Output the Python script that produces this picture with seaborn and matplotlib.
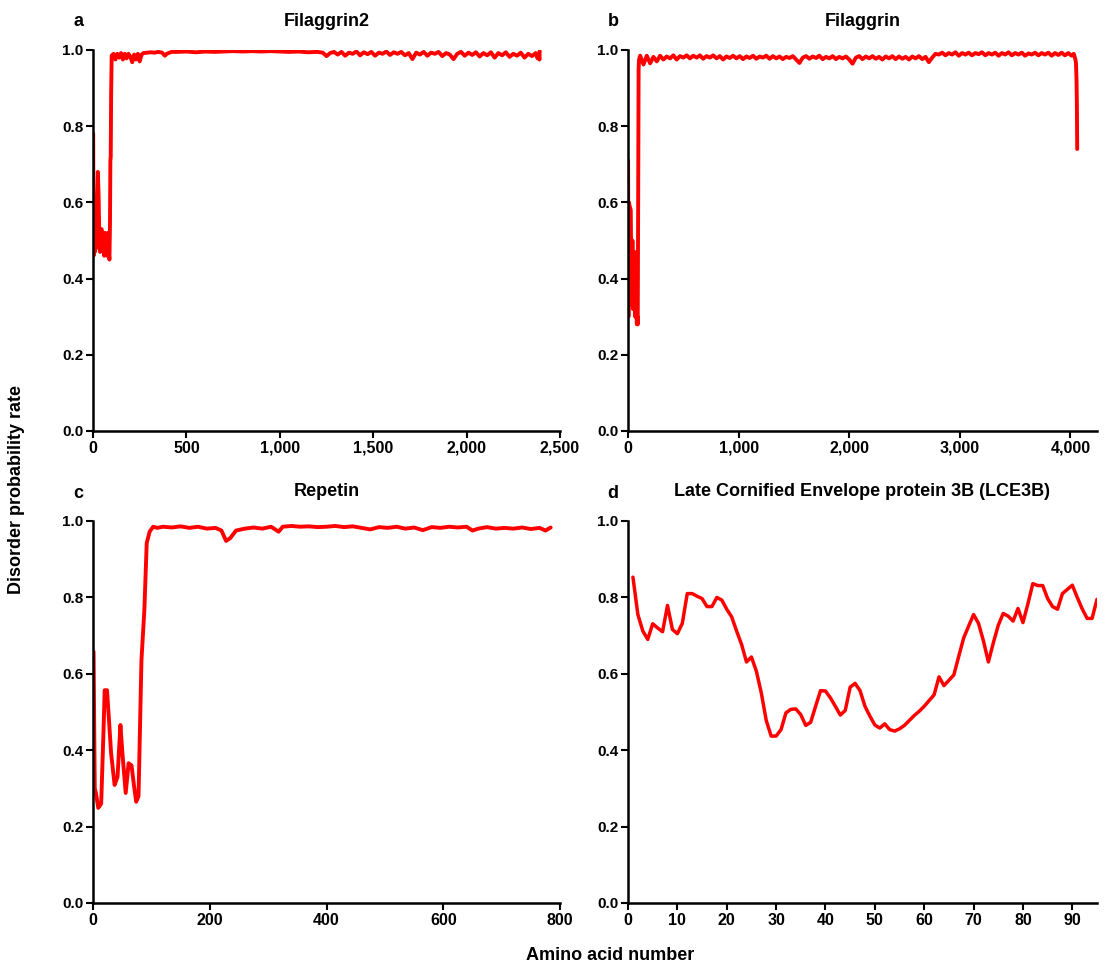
import matplotlib
matplotlib.use("Agg")
import matplotlib.pyplot as plt
import seaborn as sns
import pandas as pd
from matplotlib.ticker import FuncFormatter

# ---------------- data ----------------
# a: Filaggrin2
flg2_pos = [1, 3, 6, 10, 14, 18, 22, 26, 30, 34, 38, 42, 46, 50, 55, 60, 64, 68, 72, 76, 80, 84, 88, 91, 93, 95, 97, 100,
            110, 120, 130, 140, 150, 160, 170, 180, 190, 200, 210, 220, 230, 240, 250, 260, 270, 290, 310, 330, 350, 370,
            385, 395, 420, 450, 500, 550, 600, 650, 700, 750, 800, 850, 900, 950, 1000, 1050, 1100, 1150, 1200, 1230,
            1250, 1270, 1290,
            1310, 1330, 1350, 1370, 1390, 1410, 1430, 1450, 1470, 1490, 1510, 1530, 1550, 1570, 1590, 1610, 1630, 1650,
            1670, 1690, 1710, 1730, 1750, 1770, 1790, 1810, 1830, 1850, 1870, 1890, 1910, 1930, 1950, 1970, 1990, 2010,
            2030, 2050, 2070, 2090, 2110, 2130, 2150, 2170, 2190, 2210, 2230, 2250, 2270, 2290, 2310, 2330, 2350, 2370,
            2380, 2386, 2390, 2391]
flg2_val = [0.78, 0.46, 0.58, 0.47, 0.55, 0.48, 0.60, 0.68, 0.62, 0.50, 0.47, 0.53, 0.53, 0.52, 0.48, 0.46, 0.52, 0.47,
            0.51, 0.46, 0.52, 0.47, 0.45, 0.55, 0.71, 0.72, 0.88, 0.985,
            0.99, 0.975, 0.99, 0.98, 0.992, 0.975, 0.99, 0.978, 0.99, 0.982, 0.968, 0.988, 0.975, 0.99, 0.97, 0.988,
            0.992, 0.993, 0.994, 0.993, 0.995, 0.993, 0.985, 0.99, 0.995, 0.995, 0.996, 0.994, 0.996, 0.995, 0.996,
            0.997, 0.996, 0.997, 0.996, 0.997, 0.996, 0.995, 0.996, 0.994, 0.995, 0.993, 0.984, 0.992, 0.995,
            0.988, 0.995, 0.985, 0.993, 0.99, 0.996, 0.986, 0.994, 0.989, 0.995, 0.985, 0.993, 0.99, 0.996, 0.987,
            0.994, 0.99, 0.995, 0.986, 0.992, 0.976, 0.993, 0.988, 0.995, 0.985, 0.993, 0.99, 0.995, 0.984, 0.992,
            0.988, 0.976, 0.99, 0.995, 0.985, 0.993, 0.987, 0.994, 0.983, 0.992, 0.986, 0.994, 0.98, 0.992, 0.986,
            0.994, 0.982, 0.99, 0.985, 0.993, 0.98, 0.99, 0.984, 0.992, 0.978, 0.99, 0.975, 0.998]

# b: Filaggrin
flg_pos = [1, 4, 8, 15, 25, 30, 35, 40, 45, 50, 55, 60, 65, 70, 75, 80, 85, 88, 92, 96, 100, 110,
           140, 170, 200, 230, 260, 290, 320, 350, 380, 410, 440, 470, 500, 530, 560, 590, 620, 650, 680, 710, 740,
           770, 800, 830, 860, 890, 920, 950, 980, 1010, 1040, 1070, 1100, 1130, 1160, 1190, 1220, 1250, 1280, 1310,
           1340, 1370, 1400, 1430, 1460, 1490, 1520, 1550, 1580, 1610, 1640, 1670, 1700, 1730, 1760, 1790, 1820, 1850,
           1880, 1910, 1940, 1970, 2000, 2030, 2060, 2090, 2120, 2150, 2180, 2210, 2240, 2270, 2300, 2330, 2360, 2390,
           2420, 2450, 2480, 2510, 2540, 2570, 2600, 2630, 2660, 2690, 2720, 2750, 2780,
           2810, 2840, 2870, 2900, 2930, 2960, 2990, 3020, 3050, 3080, 3110, 3140, 3170, 3200, 3230, 3260, 3290, 3320,
           3350, 3380, 3410, 3440, 3470, 3500, 3530, 3560, 3590, 3620, 3650, 3680, 3710, 3740, 3770, 3800, 3830, 3860,
           3890, 3920, 3950, 3980, 4010, 4030, 4045, 4050, 4055, 4058, 4061]
flg_val = [0.71, 0.30, 0.60, 0.59, 0.58, 0.40, 0.33, 0.50, 0.32, 0.45, 0.33, 0.47, 0.30, 0.45, 0.32, 0.28, 0.30, 0.28,
           0.60, 0.95, 0.975, 0.985,
           0.962, 0.985, 0.965, 0.982, 0.97, 0.985, 0.975, 0.983, 0.978, 0.986, 0.975, 0.984, 0.98, 0.986, 0.978,
           0.985, 0.98, 0.986, 0.977, 0.984, 0.98, 0.986, 0.978, 0.984, 0.975, 0.983, 0.979, 0.985, 0.978, 0.984,
           0.976, 0.983, 0.979, 0.985, 0.977, 0.983, 0.98, 0.985, 0.977, 0.984, 0.978, 0.983, 0.976, 0.982, 0.979,
           0.984, 0.975, 0.966, 0.98, 0.984, 0.977, 0.983, 0.979, 0.985, 0.976, 0.982, 0.978, 0.984, 0.976, 0.982,
           0.978, 0.983, 0.975, 0.964, 0.98, 0.984, 0.976, 0.983, 0.978, 0.984, 0.977, 0.982, 0.975, 0.983, 0.978,
           0.984, 0.976, 0.983, 0.977, 0.982, 0.975, 0.983, 0.978, 0.984, 0.976, 0.982, 0.968, 0.98, 0.99,
           0.988, 0.993, 0.986, 0.992, 0.988, 0.994, 0.985, 0.992, 0.988, 0.993, 0.986, 0.992, 0.989, 0.994, 0.986,
           0.992, 0.988, 0.993, 0.985, 0.992, 0.988, 0.994, 0.986, 0.992, 0.988, 0.993, 0.985, 0.991, 0.988, 0.993,
           0.986, 0.992, 0.988, 0.993, 0.985, 0.992, 0.987, 0.993, 0.986, 0.992, 0.985, 0.99, 0.975, 0.965, 0.92,
           0.86, 0.74]

# c: Repetin
rptn_pos = [1, 3, 5, 9, 14, 18, 20, 24, 27, 31, 37, 42, 47, 50, 56, 61, 66, 70, 74, 78, 83, 88, 92, 97, 103,
            110, 120, 135, 150, 165, 180, 195, 210, 220, 228, 235, 245, 260, 275, 290, 305, 318, 325, 340, 355, 370,
            385, 400, 415, 430, 445, 460, 475, 490, 505, 520, 535, 550, 565, 580, 595, 610, 625, 640, 650, 660, 675,
            690, 705, 720, 735, 750, 765, 775, 784]
rptn_val = [0.658, 0.30, 0.288, 0.249, 0.26, 0.45, 0.557, 0.557, 0.488, 0.392, 0.309, 0.33, 0.466, 0.40, 0.288,
            0.366, 0.36, 0.31, 0.265, 0.28, 0.636, 0.767, 0.942, 0.972, 0.985,
            0.982, 0.985, 0.983, 0.986, 0.982, 0.985, 0.98, 0.982, 0.975, 0.948, 0.955, 0.975, 0.98, 0.983, 0.98,
            0.985, 0.972, 0.985, 0.987, 0.985, 0.986, 0.984, 0.985, 0.987, 0.984, 0.986, 0.982, 0.978, 0.984, 0.982,
            0.985, 0.98, 0.983, 0.976, 0.984, 0.982, 0.985, 0.983, 0.985, 0.975, 0.98, 0.984, 0.98, 0.982, 0.98,
            0.983, 0.979, 0.982, 0.975, 0.983]

# d: LCE3B
lce_pos = list(range(1, 96))
lce_val = [0.853, 0.755, 0.712, 0.690, 0.731, 0.720, 0.710, 0.779, 0.716, 0.705, 0.732, 0.810, 0.810, 0.803, 0.797,
           0.776, 0.776, 0.800, 0.793, 0.769, 0.749, 0.712, 0.677, 0.631, 0.644, 0.607, 0.550, 0.478, 0.437, 0.437,
           0.454, 0.498, 0.507, 0.508, 0.493, 0.465, 0.473, 0.515, 0.556, 0.555, 0.537, 0.515, 0.492, 0.504, 0.565,
           0.575, 0.556, 0.515, 0.489, 0.466, 0.458, 0.469, 0.454, 0.450, 0.456, 0.465, 0.478, 0.491, 0.502, 0.515,
           0.530, 0.545, 0.592, 0.569, 0.583, 0.597, 0.646, 0.694, 0.725, 0.755, 0.732, 0.686, 0.631, 0.681, 0.727,
           0.758, 0.751, 0.738, 0.771, 0.734, 0.783, 0.836, 0.831, 0.831, 0.797, 0.776, 0.769, 0.810, 0.821, 0.832,
           0.800, 0.770, 0.745, 0.745, 0.795]

titles = ["Filaggrin2", "Filaggrin", "Repetin", "Late Cornified Envelope protein 3B (LCE3B)"]
letters = ["a", "b", "c", "d"]
x_ticks = [[0, 500, 1000, 1500, 2000, 2500], [0, 1000, 2000, 3000, 4000],
           [0, 200, 400, 600, 800], [0, 10, 20, 30, 40, 50, 60, 70, 80, 90]]
x_limits = [(0, 2500), (0, 4240), (0, 800), (0, 95)]
y_ticks = [0.0, 0.2, 0.4, 0.6, 0.8, 1.0]

# ---------------- style ----------------
sns.set_style("ticks")
plt.rcParams["font.family"] = ["Liberation Sans", "DejaVu Sans"]
plt.rcParams["font.weight"] = "bold"
plt.rcParams["text.color"] = "black"

W, H = 1111, 967
fig = plt.figure(figsize=(W / 100, H / 100), dpi=100)

def px_axes(l, r, t, b):
    return fig.add_axes([l / W, 1 - b / H, (r - l) / W, (b - t) / H])

boxes = [(93, 560, 50, 431), (628, 1097, 50, 431), (93, 560, 521, 903), (628, 1097, 521, 903)]
series = [(flg2_pos, flg2_val), (flg_pos, flg_val), (rptn_pos, rptn_val), (lce_pos, lce_val)]

comma = FuncFormatter(lambda v, p: f"{int(v):,}")

for i, (box, (xs, ys)) in enumerate(zip(boxes, series)):
    ax = px_axes(*box)
    df = pd.DataFrame({"pos": xs, "val": ys})
    sns.lineplot(data=df, x="pos", y="val", ax=ax, color="#ff0000", linewidth=2.8 if i < 3 else 2.5,
                 estimator=None, sort=False)
    ax.set_xlim(*x_limits[i])
    ax.set_ylim(0, 1.0)
    ax.set_xticks(x_ticks[i])
    ax.set_yticks(y_ticks)
    ax.xaxis.set_major_formatter(comma)
    ax.yaxis.set_major_formatter(FuncFormatter(lambda v, p: f"{v:.1f}"))
    ax.set_xlabel("")
    ax.set_ylabel("")
    for s in ["top", "right"]:
        ax.spines[s].set_visible(False)
    for s in ["left", "bottom"]:
        ax.spines[s].set_linewidth(1.8)
        ax.spines[s].set_color("black")
    ax.tick_params(direction="out", length=5, width=1.5, colors="black", pad=2)
    ax.tick_params(axis="x", labelsize=11.5)
    ax.tick_params(axis="y", labelsize=11)
    for lab in ax.get_xticklabels() + ax.get_yticklabels():
        lab.set_fontweight("bold")
    l, r, t, b = box
    fig.text((l + r) / 2 / W, 1 - (t - 29) / H, titles[i], ha="center", va="center",
             fontsize=13, fontweight="bold")
    fig.text((l - 15) / W, 1 - (t - 28) / H, letters[i], ha="center", va="center",
             fontsize=13, fontweight="bold")

fig.text(17 / W, 1 - 490 / H, "Disorder probability rate", rotation=90, ha="center", va="center",
         fontsize=13, fontweight="bold")
fig.text(610 / W, 1 - 956 / H, "Amino acid number", ha="center", va="center",
         fontsize=13, fontweight="bold")

fig.savefig("out.png", dpi=100, facecolor="white")
